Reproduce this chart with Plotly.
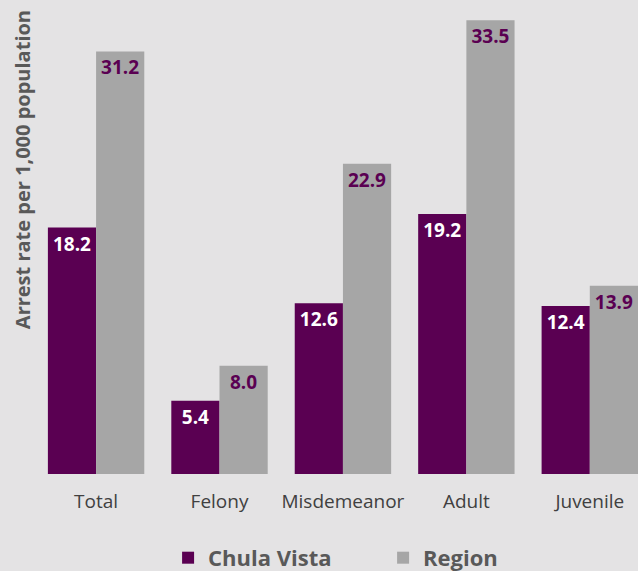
import plotly.graph_objects as go

categories = ["Total", "Felony", "Misdemeanor", "Adult", "Juvenile"]
chula_vista = [18.2, 5.4, 12.6, 19.2, 12.4]
region = [31.2, 8.0, 22.9, 33.5, 13.9]

PURPLE = "#5a0052"
GRAY = "#a6a6a6"
BG = "#e4e3e4"
FONT = "Open Sans"

fig = go.Figure()
fig.add_trace(go.Bar(
    x=categories, y=chula_vista, name="Chula Vista",
    marker=dict(color=PURPLE, line=dict(width=0)),
    text=[f"{v:.1f}" for v in chula_vista],
    textposition="inside", insidetextanchor="end", textangle=0,
    constraintext="none",
    insidetextfont=dict(family=FONT, size=19, color="white", weight="bold"),
))
fig.add_trace(go.Bar(
    x=categories, y=region, name="Region",
    marker=dict(color=GRAY, line=dict(width=0)),
    text=[f"{v:.1f}" for v in region],
    textposition="inside", insidetextanchor="end", textangle=0,
    constraintext="none",
    insidetextfont=dict(family=FONT, size=19, color=PURPLE, weight="bold"),
))

fig.update_layout(
    width=638, height=571,
    paper_bgcolor=BG, plot_bgcolor=BG,
    margin=dict(l=34, r=0, t=0, b=97, autoexpand=False),
    barmode="group", bargap=0.219, bargroupgap=0,
    font=dict(family=FONT),
    xaxis=dict(range=[-0.503, 4.3905], showgrid=False, showline=False,
               ticks="", tickfont=dict(family=FONT, size=19, color="#404040"),
               ticklabelstandoff=14),
    yaxis=dict(range=[0, 35], visible=False),
    showlegend=True,
    legend=dict(orientation="h", x=0.222, xanchor="left", y=-0.177, yanchor="middle",
                font=dict(family=FONT, size=22, color="#595959", weight="bold"),
                entrywidth=170, entrywidthmode="pixels", bgcolor="rgba(0,0,0,0)"),
    annotations=[dict(
        text="Arrest rate per 1,000 population", textangle=-90,
        xref="paper", yref="paper", x=0, y=0.641, xanchor="center", yanchor="middle",
        xshift=-12, showarrow=False,
        font=dict(family=FONT, size=20, color="#595959", weight="bold"),
    )],
)

fig.write_html("out.html", config={"displayModeBar": False})
with open("out.html", encoding="utf-8") as f:
    html = f.read()
html = html.replace("<head>", "<head><style>html,body{margin:0;padding:0;overflow:hidden;}</style>", 1)
with open("out.html", "w", encoding="utf-8") as f:
    f.write(html)
